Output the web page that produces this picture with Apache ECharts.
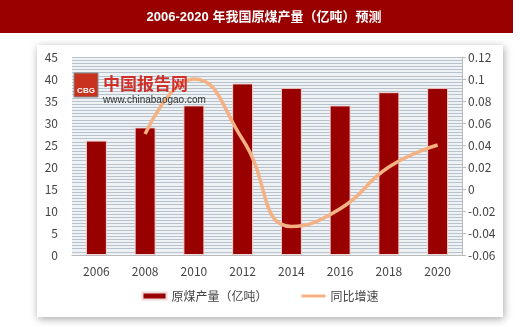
<!DOCTYPE html>
<html><head><meta charset="utf-8">
<script src="https://cdn.jsdelivr.net/npm/echarts@6/dist/echarts.min.js"></script>
<style>html,body{margin:0;padding:0;background:#fff}#c{width:520px;height:327px}</style>
</head><body><div id="c"></div>
<script>
var titleText = '2006-2020 年我国原煤产量（亿吨）预测';
var categories = ['2006','2008','2010','2012','2014','2016','2018','2020'];
var output = [26, 29, 34, 39, 38, 34, 37, 38];
var growth = [null, 0.05, 0.1, 0.045, -0.034, -0.018, 0.02, 0.04];
var leftTicks = {min: 0, max: 45, interval: 5};
var rightTicks = {min: -0.06, max: 0.12, interval: 0.02};
var seriesNames = ['原煤产量（亿吨）', '同比增速'];

var chart = echarts.init(document.getElementById('c'), null, {renderer: 'canvas'});
var font = '"Noto Sans CJK SC", "Open Sans", sans-serif';
chart.setOption({
  animation: false,
  backgroundColor: '#fff',
  graphic: [
    {type: 'rect', shape: {x: 0, y: 0, width: 513, height: 33}, style: {fill: '#990000'}, z: -10},
    {type: 'rect', shape: {x: 37, y: 45, width: 466, height: 272}, style: {fill: '#fff', shadowBlur: 8, shadowColor: 'rgba(0,0,0,0.35)', shadowOffsetX: 1, shadowOffsetY: 2}, z: -10},
    {type: 'text', x: 264, y: 17, style: {text: titleText, fill: '#fff', font: 'bold 13px "Liberation Sans", "Noto Sans CJK SC", sans-serif', textAlign: 'center', textVerticalAlign: 'middle'}},
    {type: 'rect', shape: {x: 74, y: 73, width: 24, height: 24}, style: {fill: '#c8321e', stroke: '#888', lineWidth: 1}, z: 10},
    {type: 'text', x: 86, y: 91, style: {text: 'CBG', fill: '#fff', font: 'bold 8px sans-serif', textAlign: 'center', textVerticalAlign: 'middle'}, z: 11},
    {type: 'text', x: 103, y: 84, style: {text: '中国报告网', fill: '#d0302a', font: 'bold 17px "Noto Sans CJK SC", sans-serif', textVerticalAlign: 'middle'}, z: 10},
    {type: 'text', x: 103, y: 100, style: {text: 'www.chinabaogao.com', fill: '#333', font: '10px "Liberation Sans", sans-serif', textVerticalAlign: 'middle'}, z: 10}
  ],
  grid: {left: 72, right: 58, top: 57, bottom: 72, show: true, backgroundColor: '#eef2f5', borderWidth: 0},
  legend: {
    bottom: 20, left: 'center', itemGap: 34, itemWidth: 24, itemHeight: 7,
    textStyle: {fontFamily: font, fontSize: 12, color: '#444'},
    data: [
      {name: seriesNames[0], icon: 'rect'},
      {name: seriesNames[1], icon: 'path://M0,0 L24,0 L24,3 L0,3 Z'}
    ]
  },
  xAxis: {
    type: 'category', data: categories, boundaryGap: true,
    axisLine: {show: true, lineStyle: {color: '#bbb'}},
    axisTick: {show: false},
    axisLabel: {color: '#444', fontSize: 12, fontFamily: font, margin: 10}
  },
  yAxis: [
    {type: 'value', min: leftTicks.min, max: leftTicks.max, interval: leftTicks.interval,
     axisLine: {show: false}, axisTick: {show: false},
     axisLabel: {color: '#444', fontSize: 12, fontFamily: font, margin: 14},
     splitLine: {show: true, lineStyle: {color: '#b8c2cc', width: 1}},
     minorTick: {show: false, splitNumber: 7},
     minorSplitLine: {show: true, lineStyle: {color: '#b8c2cc', width: 1}}},
    {type: 'value', min: rightTicks.min, max: rightTicks.max, interval: rightTicks.interval,
     axisLine: {show: true, lineStyle: {color: '#bbb'}}, axisTick: {show: true, length: 4, lineStyle: {color: '#bbb'}},
     axisLabel: {color: '#444', fontSize: 12, fontFamily: font, margin: 6,
       formatter: function (v) { return String(+v.toFixed(2)); }},
     splitLine: {show: false}}
  ],
  series: [
    {name: seriesNames[0], type: 'bar', data: output, barWidth: 21, yAxisIndex: 0,
     itemStyle: {color: '#990000', borderColor: '#f0d8d8', borderWidth: 1}},
    {name: seriesNames[1], type: 'line', data: growth, yAxisIndex: 1, smooth: 0.5,
     showSymbol: false, symbol: 'none', connectNulls: false,
     lineStyle: {color: '#f4b183', width: 3.5}, itemStyle: {color: '#f4b183'}}
  ]
});
</script></body></html>
